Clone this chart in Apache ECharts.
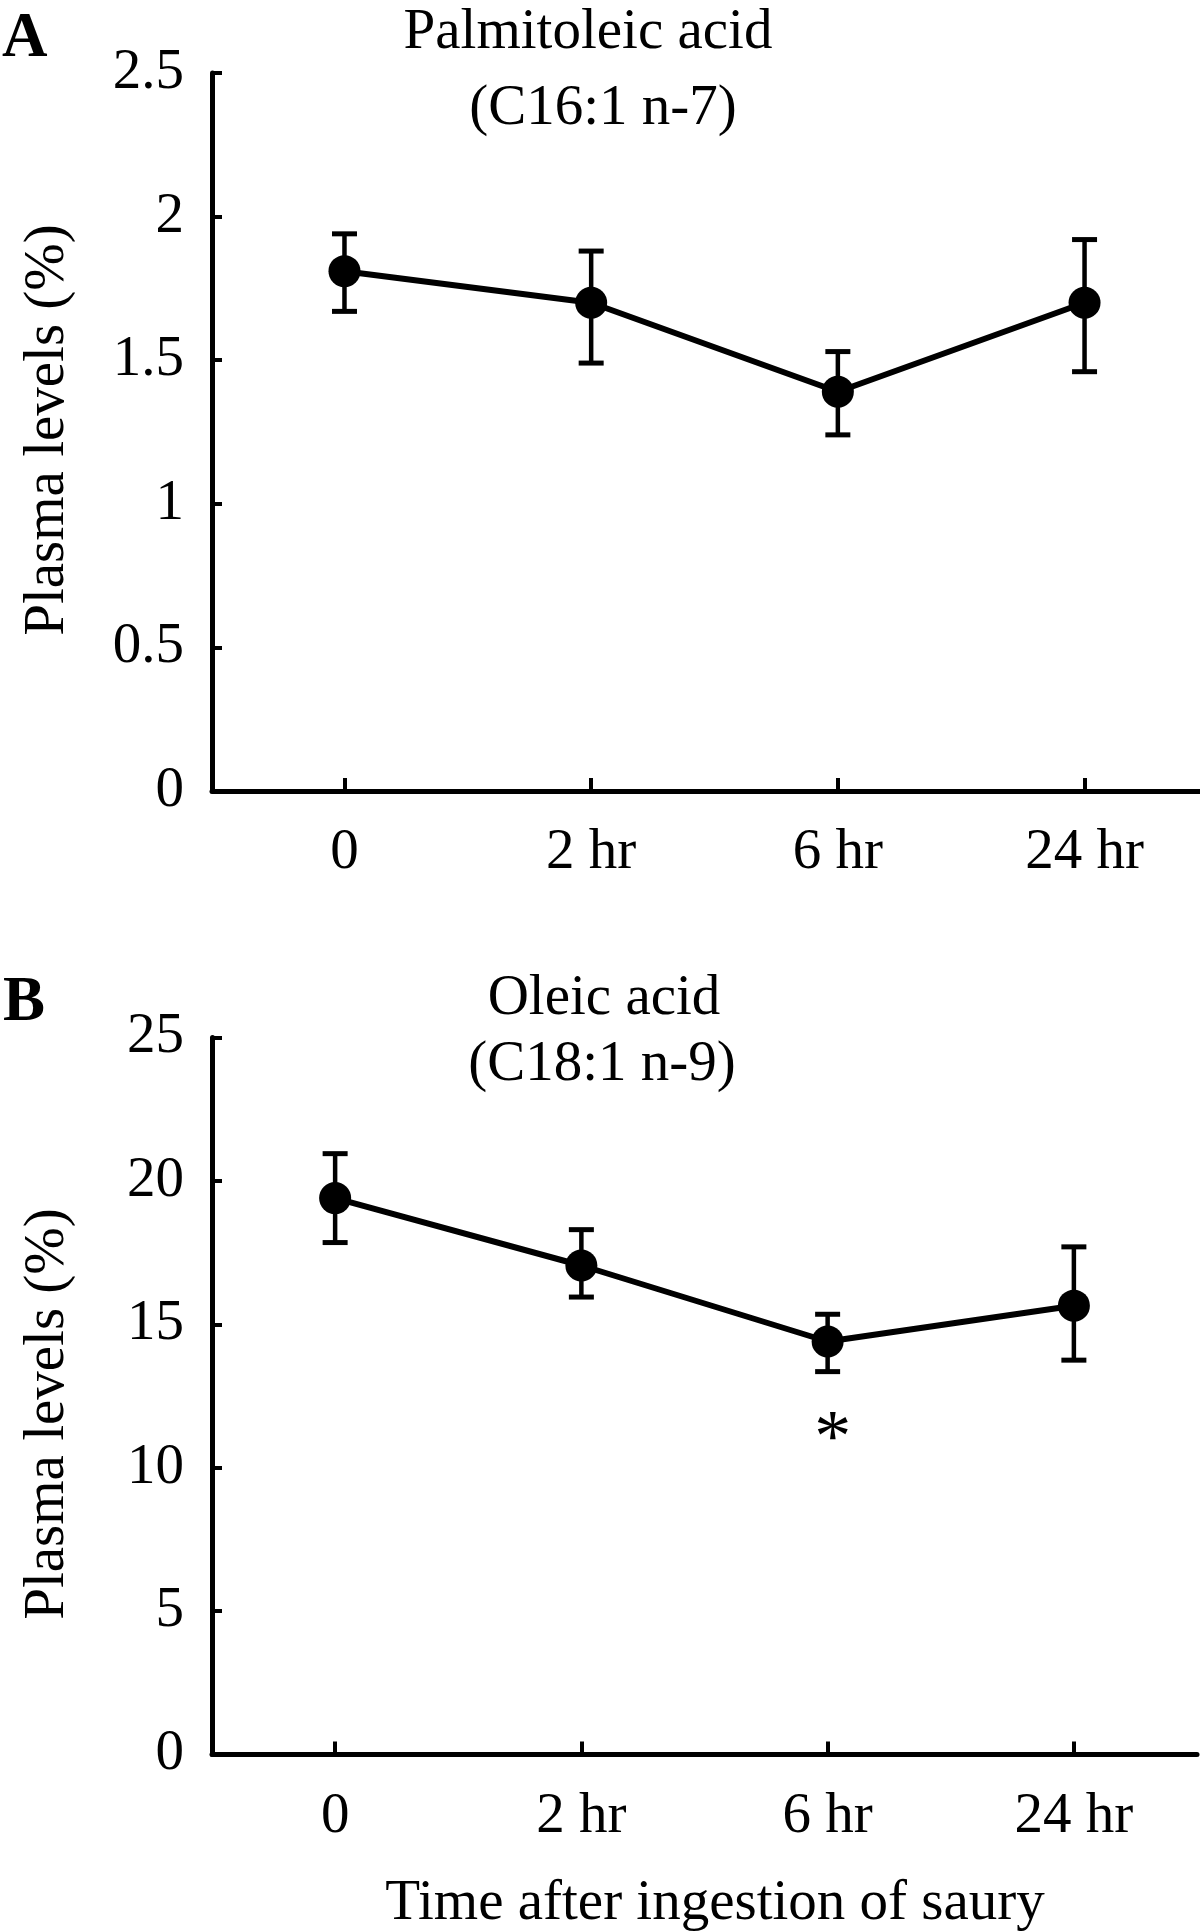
<!DOCTYPE html>
<html>
<head>
<meta charset="utf-8">
<script src="https://cdn.jsdelivr.net/npm/echarts@6/dist/echarts.min.js"></script>
<style>
html,body{margin:0;padding:0;background:#fff;}
#chart{width:1200px;height:1932px;}
</style>
</head>
<body>
<div id="chart"></div>
<script>
// ---- data ----
var timeLabels = ['0', '2 hr', '6 hr', '24 hr'];
var palmitoleicMean  = [1.81, 1.70, 1.39, 1.70];
var palmitoleicUpper = [1.94, 1.88, 1.53, 1.92];
var palmitoleicLower = [1.67, 1.49, 1.24, 1.46];
var oleicMean  = [19.4, 17.05, 14.4, 15.65];
var oleicUpper = [20.95, 18.3, 15.35, 17.7];
var oleicLower = [17.85, 15.95, 13.35, 13.75];
var oleicSignificance = ['', '', '*', ''];
var yTicksA = {min: 0, max: 2.5, interval: 0.5};
var yTicksB = {min: 0, max: 25, interval: 5};

var FONT = 'Liberation Serif, Times New Roman, serif';
var idx = timeLabels.map(function (_, i) { return i; });

function pts(arr) { return arr.map(function (v, i) { return [i, v]; }); }
function errData(lo, hi) { return lo.map(function (v, i) { return [i, v, hi[i]]; }); }

function errRender(params, api) {
  var x = api.value(0);
  var pLo = api.coord([x, api.value(1)]);
  var pHi = api.coord([x, api.value(2)]);
  var w = 12.5;
  var st = {stroke: '#000', lineWidth: 4.5};
  var cs = {stroke: '#000', lineWidth: 5};
  return {type: 'group', children: [
    {type: 'line', shape: {x1: pLo[0], y1: pLo[1], x2: pHi[0], y2: pHi[1]}, style: st},
    {type: 'line', shape: {x1: pLo[0] - w, y1: pLo[1], x2: pLo[0] + w, y2: pLo[1]}, style: cs},
    {type: 'line', shape: {x1: pHi[0] - w, y1: pHi[1], x2: pHi[0] + w, y2: pHi[1]}, style: cs}
  ]};
}

function xAxis(gi, min, max) {
  return {
    type: 'value', gridIndex: gi, min: min, max: max,
    axisLine: {show: true, onZero: false, lineStyle: {color: '#000', width: 5}},
    axisTick: {show: true, inside: true, length: 13, customValues: idx, lineStyle: {color: '#000', width: 4}},
    axisLabel: {customValues: idx, formatter: function (v) { return timeLabels[Math.round(v)]; },
      fontSize: 57, fontFamily: FONT, color: '#000', margin: 34},
    splitLine: {show: false}
  };
}
function yAxis(gi, t) {
  return {
    type: 'value', gridIndex: gi, min: t.min, max: t.max, interval: t.interval,
    axisLine: {show: true, onZero: false, lineStyle: {color: '#000', width: 5}},
    axisTick: {show: true, inside: true, length: 10, lineStyle: {color: '#000', width: 4}},
    axisLabel: {fontSize: 57, fontFamily: FONT, color: '#000', margin: 28},
    splitLine: {show: false}
  };
}

var chart = echarts.init(document.getElementById('chart'), null, {renderer: 'canvas'});
chart.setOption({
  animation: false,
  backgroundColor: '#fff',
  grid: [
    {left: 212, right: 0, top: 73, height: 718},
    {left: 212, right: 3, top: 1037.5, height: 717}
  ],
  xAxis: [xAxis(0, -0.537, 3.468), xAxis(1, -0.5, 3.5)],
  yAxis: [yAxis(0, yTicksA), yAxis(1, yTicksB)],
  graphic: [
    {type: 'text', left: 2, top: 8, style: {text: 'A', font: 'bold 63px ' + FONT, fill: '#000'}},
    {type: 'text', left: 3, top: 972, style: {text: 'B', font: 'bold 63px ' + FONT, fill: '#000'}},
    {type: 'text', x: 588, y: 33, style: {text: 'Palmitoleic acid', font: '57px ' + FONT, fill: '#000', align: 'center', verticalAlign: 'middle'}},
    {type: 'text', x: 603, y: 109, style: {text: '(C16:1 n-7)', font: '57px ' + FONT, fill: '#000', align: 'center', verticalAlign: 'middle'}},
    {type: 'text', x: 604, y: 999, style: {text: 'Oleic acid', font: '57px ' + FONT, fill: '#000', align: 'center', verticalAlign: 'middle'}},
    {type: 'text', x: 602, y: 1065, style: {text: '(C18:1 n-9)', font: '57px ' + FONT, fill: '#000', align: 'center', verticalAlign: 'middle'}},
    {type: 'text', x: 48, y: 430, rotation: Math.PI / 2, style: {text: 'Plasma levels (%)', font: '57px ' + FONT, fill: '#000', align: 'center', verticalAlign: 'middle'}},
    {type: 'text', x: 48, y: 1414, rotation: Math.PI / 2, style: {text: 'Plasma levels (%)', font: '57px ' + FONT, fill: '#000', align: 'center', verticalAlign: 'middle'}},
    {type: 'text', x: 715, y: 1904, style: {text: 'Time after ingestion of saury', font: '57px ' + FONT, fill: '#000', align: 'center', verticalAlign: 'middle'}}
  ],
  series: [
    {type: 'custom', xAxisIndex: 0, yAxisIndex: 0, renderItem: errRender, data: errData(palmitoleicLower, palmitoleicUpper), z: 2},
    {type: 'line', xAxisIndex: 0, yAxisIndex: 0, data: pts(palmitoleicMean), symbol: 'circle', symbolSize: 32,
      itemStyle: {color: '#000'}, lineStyle: {color: '#000', width: 6}, z: 3},
    {type: 'custom', xAxisIndex: 1, yAxisIndex: 1, renderItem: errRender, data: errData(oleicLower, oleicUpper), z: 2},
    {type: 'line', xAxisIndex: 1, yAxisIndex: 1, data: pts(oleicMean), symbol: 'circle', symbolSize: 32,
      itemStyle: {color: '#000'}, lineStyle: {color: '#000', width: 6}, z: 3},
    {type: 'scatter', xAxisIndex: 1, yAxisIndex: 1, symbol: 'circle', symbolSize: 2, silent: true,
      itemStyle: {opacity: 0},
      data: oleicLower.map(function (v, i) { return {value: [i, v], sig: oleicSignificance[i]}; })
        .filter(function (d) { return d.sig; }),
      label: {show: true, opacity: 1, position: 'bottom', distance: 32, offset: [5, 0],
        formatter: function (p) { return p.data.sig; }, fontSize: 74, fontFamily: FONT, color: '#000'}}
  ]
});
</script>
</body>
</html>
